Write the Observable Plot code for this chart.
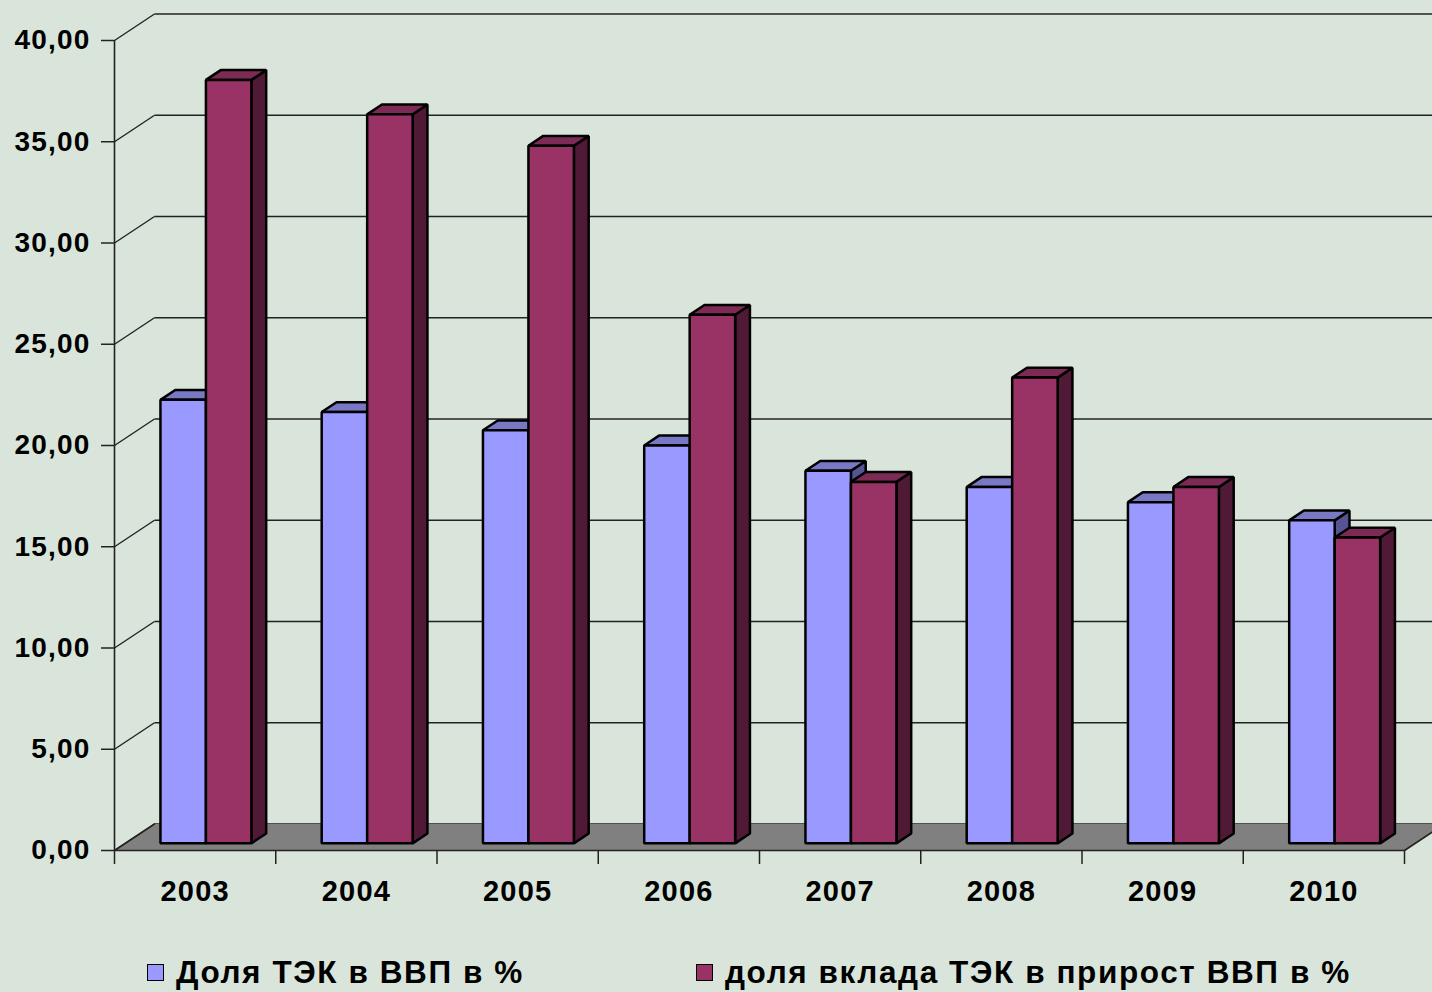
<!DOCTYPE html>
<html>
<head>
<meta charset="utf-8">
<script src="https://cdn.jsdelivr.net/npm/d3@7"></script>
<script src="https://cdn.jsdelivr.net/npm/@observablehq/plot@0.6"></script>
<style>
  html, body { margin: 0; padding: 0; background: #D9E5DA; overflow: hidden; width: 1432px; height: 992px; }
  #chart svg { display: block; background: transparent; }
  #chart svg text { letter-spacing: 1.2px; }
  .legend { position: relative; height: 57px; font-family: "Liberation Sans", Arial, sans-serif; font-weight: bold; font-size: 31.5px; letter-spacing: 1.6px; color: #000; }
  .item { position: absolute; top: 19px; display: flex; align-items: center; white-space: nowrap; line-height: 36px; }
  .sw { width: 15px; height: 15px; border: 1.5px solid #000; margin-right: 12px; }
</style>
</head>
<body>
<div id="chart"></div>
<div class="legend" id="legend"></div>
<script>
// ---- data ----
const years = ["2003", "2004", "2005", "2006", "2007", "2008", "2009", "2010"];
const shareGDP = [21.9, 21.3, 20.4, 19.65, 18.4, 17.6, 16.85, 15.95];      // Доля ТЭК в ВВП в %
const shareGrowth = [37.7, 36.0, 34.45, 26.1, 17.85, 23.0, 17.6, 15.1];    // доля вклада ТЭК в прирост ВВП в %
const seriesNames = ["Доля ТЭК в ВВП в %", "доля вклада ТЭК в прирост ВВП в %"];
const yTicks = [0, 5, 10, 15, 20, 25, 30, 35, 40];
const colors = {
  blue: {front: "#9999FF", top: "#7878C4", side: "#555594"},
  red: {front: "#993366", top: "#7D2A55", side: "#501A36"}
};

// ---- oblique 3D projection in data units ----
const n = years.length;
const D = {x: 0.248, y: 1.31};          // full depth of the wall
const z0 = 0.27, z1 = 0.64;             // bar front/back depth
const gapL = 0.218, bw = 0.282;         // bar offset/width inside a category
const P = (x, y, z) => ({x: x + z * D.x, y: y + z * D.y});

function barPolys(values, s) {
  const front = [], top = [], side = [];
  values.forEach((v, i) => {
    const x0 = i + gapL + s * bw, x1 = x0 + bw;
    const id = `${s}-${i}`;
    [P(x0, 0, z0), P(x0, v, z0), P(x1, v, z0), P(x1, 0, z0)].forEach(p => front.push({...p, id}));
    [P(x0, v, z0), P(x1, v, z0), P(x1, v, z1), P(x0, v, z1)].forEach(p => top.push({...p, id}));
    [P(x1, 0, z0), P(x1, v, z0), P(x1, v, z1), P(x1, 0, z1)].forEach(p => side.push({...p, id}));
  });
  return {front, top, side};
}
const blue = barPolys(shareGDP, 0);
const red = barPolys(shareGrowth, 1);

const floor = [P(0, 0, 0), P(n, 0, 0), P(n, 0, 1), P(0, 0, 1)];
const floorEdge = [P(0, 0, 1), P(0, 0, 0), P(n, 0, 0), P(n, 0, 1)];
const wallLines = yTicks.map(v => ({a: P(0, v, 0), b: P(0, v, 1), c: P(n + 1, v, 1)}));

const fmt = d => d.toFixed(2).replace(".", ",");
const poly = (data, fill, sw = 2.5) => Plot.line(data, {
  x: "x", y: "y", z: "id", curve: "linear-closed",
  fill, stroke: "#000", strokeWidth: sw, strokeLinejoin: "miter"
});

const chart = Plot.plot({
  width: 1432,
  height: 935,
  marginLeft: 114,
  marginRight: 28,
  marginTop: 40,
  marginBottom: 85,
  style: {background: "transparent", fontFamily: "'Liberation Sans', Arial, sans-serif"},
  x: {type: "linear", domain: [0, n], axis: null},
  y: {type: "linear", domain: [0, 40], axis: null},
  marks: [
    // back wall gridlines
    Plot.link(wallLines, {x1: d => d.b.x, y1: d => d.b.y, x2: d => d.c.x, y2: d => d.c.y, stroke: "#222", strokeWidth: 1.4}),
    // side wall diagonals
    Plot.link(wallLines, {x1: d => d.a.x, y1: d => d.a.y, x2: d => d.b.x, y2: d => d.b.y, stroke: "#222", strokeWidth: 1.4}),
    // floor
    Plot.line(floor, {x: "x", y: "y", curve: "linear-closed", fill: "#808080", stroke: "none"}),
    Plot.line(floorEdge, {x: "x", y: "y", stroke: "#222", strokeWidth: 1.6}),
    // front y axis line
    Plot.ruleX([0], {y1: 0, y2: 40, stroke: "#222", strokeWidth: 1.6}),
    // bars
    poly(blue.side, colors.blue.side),
    poly(blue.top, colors.blue.top),
    poly(blue.front, colors.blue.front),
    poly(red.side, colors.red.side),
    poly(red.top, colors.red.top),
    poly(red.front, colors.red.front),
    // axes
    Plot.axisY(yTicks, {label: null, tickSize: 13, tickPadding: 11, tickFormat: fmt, fontSize: 28, fontWeight: "bold", stroke: "#222", fill: "#000", strokeWidth: 1.5}),
    Plot.axisX(d3.range(n + 1), {label: null, tickSize: 14, tickFormat: () => "", stroke: "#222", strokeWidth: 1.5}),
    Plot.axisX(d3.range(n).map(i => i + 0.5), {label: null, tickSize: 0, tickPadding: 30, tickFormat: d => years[Math.floor(d)], fontSize: 29, fontWeight: "bold", fill: "#000"})
  ]
});
document.getElementById("chart").append(chart);

// legend
const legend = document.getElementById("legend");
const legendColors = [colors.blue.front, colors.red.front];
const legendLeft = [147, 696];
seriesNames.forEach((name, i) => {
  const item = document.createElement("div");
  item.className = "item";
  item.style.left = legendLeft[i] + "px";
  const sw = document.createElement("span");
  sw.className = "sw";
  sw.style.background = legendColors[i];
  const t = document.createElement("span");
  t.textContent = name;
  item.append(sw, t);
  legend.append(item);
});
</script>
</body>
</html>
